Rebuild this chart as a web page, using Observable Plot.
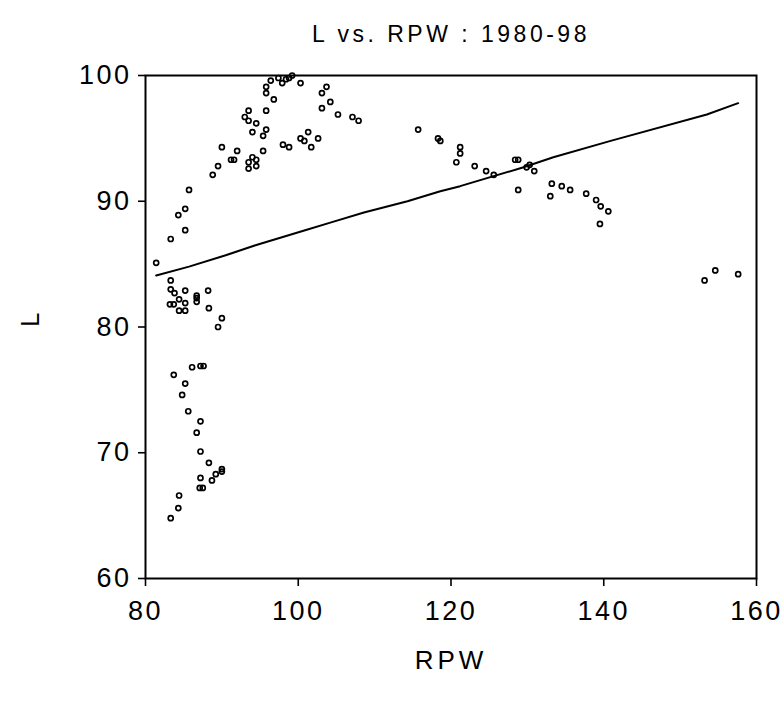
<!DOCTYPE html>
<html>
<head>
<meta charset="utf-8">
<script src="https://cdn.jsdelivr.net/npm/d3@7"></script>
<script src="https://cdn.jsdelivr.net/npm/@observablehq/plot@0.6"></script>
<style>
  html, body { margin: 0; padding: 0; background: #fff; }
  svg { font-family: "Liberation Sans", Arial, sans-serif; }
  svg text { letter-spacing: 2.5px; }
  svg g.title text { letter-spacing: 3.5px; }
  svg g.axislabel text { letter-spacing: 4px; }
</style>
</head>
<body>
<div id="chart"></div>
<script>
// Scatter points: RPW (x) and L (y)
const rpw = [
  99.2, 98.8, 98.4, 97.4, 96.4, 97.9, 100.3, 95.8, 95.8, 96.8, 95.8, 93.5, 93.0, 93.5, 94.5, 95.8,
  94.0, 95.4, 90.0, 92.0, 95.4, 91.2, 91.6, 94.0, 94.5, 93.5, 94.5, 93.5, 89.5, 88.8, 85.7, 85.2,
  84.3, 85.2, 83.3, 98.0, 98.8, 100.3, 100.8, 101.3, 101.7, 102.6, 103.1, 103.7, 104.2, 103.1,
  105.2, 107.1, 107.9, 81.4,
  83.3, 83.3, 83.8, 85.2, 88.2, 86.7, 86.7, 86.7, 84.4, 85.2, 83.2, 83.7, 84.4, 85.2, 88.3, 90.0,
  89.5, 86.1, 87.2, 87.6, 83.7, 85.2, 84.8, 85.6, 87.2, 86.7, 87.2, 88.3, 90.0, 90.0, 89.2, 88.7,
  87.2, 87.1, 87.5, 84.4, 84.3, 83.3,
  115.7, 118.3, 118.6, 121.2, 121.2, 120.7, 123.1, 124.6, 125.6, 128.4, 128.8, 129.9, 130.3, 130.9,
  128.8, 133.2, 134.5, 135.6, 133.0, 137.7, 139.0, 139.6, 140.6, 139.5, 153.2, 154.6, 157.6
];
const lValues = [
  100.0, 99.8, 99.7, 99.8, 99.6, 99.4, 99.4, 99.1, 98.6, 98.1, 97.2, 97.2, 96.7, 96.4, 96.2, 95.7,
  95.5, 95.2, 94.3, 94.0, 94.0, 93.3, 93.3, 93.5, 93.3, 93.1, 92.8, 92.6, 92.8, 92.1, 90.9, 89.4,
  88.9, 87.7, 87.0, 94.5, 94.3, 95.0, 94.8, 95.5, 94.3, 95.0, 98.6, 99.1, 97.9, 97.4,
  96.9, 96.7, 96.4, 85.1,
  83.7, 83.0, 82.7, 82.9, 82.9, 82.5, 82.3, 82.0, 82.2, 81.9, 81.8, 81.8, 81.3, 81.3, 81.5, 80.7,
  80.0, 76.8, 76.9, 76.9, 76.2, 75.5, 74.6, 73.3, 72.5, 71.6, 70.1, 69.2, 68.7, 68.5, 68.3, 67.8,
  68.0, 67.2, 67.2, 66.6, 65.6, 64.8,
  95.7, 95.0, 94.8, 94.3, 93.8, 93.1, 92.8, 92.4, 92.1, 93.3, 93.3, 92.7, 92.9, 92.4,
  90.9, 91.4, 91.2, 90.9, 90.4, 90.6, 90.1, 89.6, 89.2, 88.2, 83.7, 84.5, 84.2
];

// Fitted line
const fitRpw = [81.4, 85.7, 90.5, 94.4, 100.9, 104.2, 108.6, 114.3, 118.6, 121.2, 129.5, 133.4, 140.9, 153.5, 157.6];
const fitL   = [84.1, 84.8, 85.7, 86.5, 87.7, 88.3, 89.1, 90.0, 90.8, 91.2, 92.7, 93.5, 94.8, 96.9, 97.8];

const xTicks = [80, 100, 120, 140, 160];
const yTicks = [60, 70, 80, 90, 100];

const titleText = "L vs. RPW : 1980-98";
const xLabel = "RPW";
const yLabel = "L";

const points = rpw.map((x, i) => ({x, y: lValues[i]}));
const fit = fitRpw.map((x, i) => ({x, y: fitL[i]}));

const chart = Plot.plot({
  width: 784,
  height: 705,
  marginLeft: 145,
  marginRight: 28,
  marginTop: 75,
  marginBottom: 127,
  style: {background: "white", color: "black", fontFamily: "'Liberation Sans', Arial, sans-serif", overflow: "visible"},
  x: {domain: [80, 160]},
  y: {domain: [60, 100]},
  marks: [
    Plot.axisX({ticks: xTicks, tickSize: 8, tickPadding: 14, fontSize: 27, label: null, strokeWidth: 1.6}),
    Plot.axisY({ticks: yTicks, tickSize: 7, tickPadding: 7, fontSize: 27, label: null, strokeWidth: 1.6}),
    Plot.frame({stroke: "black", strokeWidth: 2}),
    Plot.line(fit, {x: "x", y: "y", stroke: "black", strokeWidth: 2}),
    Plot.dot(points, {x: "x", y: "y", r: 2.5, stroke: "black", strokeWidth: 1.7, fill: "none"}),
    Plot.text([titleText], {text: d => d, frameAnchor: "top", dy: -50, fontSize: 23, fill: "black", className: "title"}),
    Plot.text([xLabel], {text: d => d, frameAnchor: "bottom", dy: 90, fontSize: 26, fill: "black", className: "axislabel"}),
    Plot.text([yLabel], {text: d => d, frameAnchor: "left", dx: -115, rotate: -90, fontSize: 26, fill: "black", className: "axislabel"})
  ]
});
document.getElementById("chart").appendChild(chart);
</script>
</body>
</html>
